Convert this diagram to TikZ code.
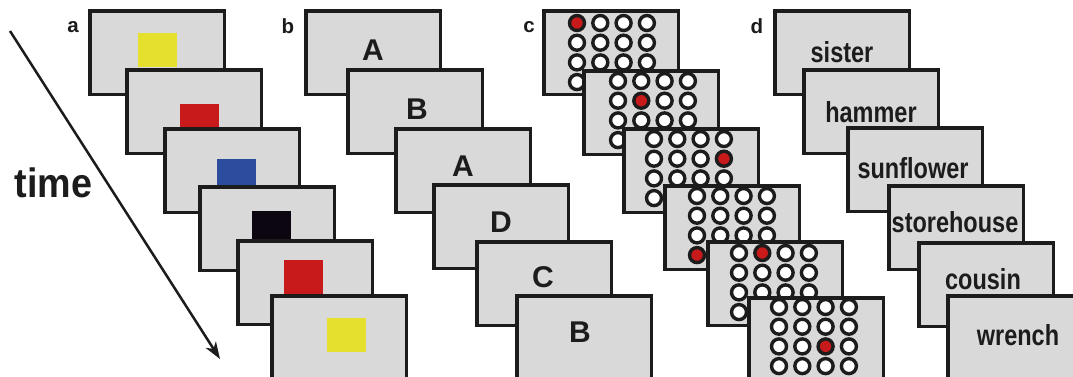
\documentclass[tikz,border=0pt]{standalone}
\usepackage{fontspec}
\setmainfont{Liberation Sans}
\usetikzlibrary{arrows.meta}
\definecolor{scr}{RGB}{217,217,217}
\definecolor{ylw}{RGB}{229,224,46}
\definecolor{rd}{RGB}{200,26,26}
\definecolor{blu}{RGB}{44,76,158}
\definecolor{blk}{RGB}{12,6,16}
\definecolor{ink}{RGB}{28,28,28}
\newcommand\dotgrid[4]{%
  \foreach \r in {1,...,4}{\foreach \c in {1,...,4}{%
    \ifnum\numexpr\r*10+\c\relax=#4 \def\fc{rd}\else\def\fc{white}\fi
    \node[dot, fill=\fc] (#1-\r-\c) at ({#2+(\c-1)*23.3},{#3+(\r-1)*19.7}) {};
  }}%
}
\begin{document}
\begin{tikzpicture}[x=1pt,y=-1pt,
  screen/.style={draw=ink, fill=scr, line width=3.5pt, outer sep=1.75pt,
    minimum width=134.5pt, minimum height=83.5pt, inner sep=0pt, anchor=north west},
  sq/.style={inner sep=0pt, outer sep=0pt, minimum width=38.5pt, minimum height=34pt, anchor=north west},
  dot/.style={circle, draw=ink, line width=3.4pt, minimum size=15pt, inner sep=0pt},
  lab/.style={anchor=base, text=ink, font=\fontsize{20.5}{20.5}\selectfont\bfseries},
  letter/.style={anchor=base, text=ink, font=\fontsize{30}{30}\selectfont\bfseries},
  word/.style={anchor=base, text=ink, font=\fontsize{29}{29}\selectfont\bfseries}]
\useasboundingbox (0,0) rectangle (1073,376);
\fill[white] (0,0) rectangle (1073,376);

% labels
\node[lab] (la) at (73,32) {a};
\node[lab] (lb) at (288,33) {b};
\node[lab] (lc) at (529,32) {c};
\node[lab] (ld) at (757,33) {d};

% time arrow
\coordinate (ts) at (10,31);
\coordinate (te) at (220,359);
\draw[ink, line width=2.5pt, -{Stealth[length=17pt,width=12pt,inset=5pt]}] (ts) -- (te);
\node[anchor=base west, text=ink, font=\fontsize{41}{41}\selectfont\bfseries] (time) at (11,197) {\scalebox{0.92}[1]{time}};

% panel a
\node[screen] (a1) at (88,9) {};
\node[sq, fill=ylw] (a1q) at (138,33) {};
\node[screen] (a2) at (125,68) {};
\node[sq, fill=rd] (a2q) at (180,104) {};
\node[screen] (a3) at (163,127) {};
\node[sq, fill=blu] (a3q) at (217,159) {};
\node[screen] (a4) at (198,185) {};
\node[sq, fill=blk] (a4q) at (252,211) {};
\node[screen] (a5) at (236,239) {};
\node[sq, fill=rd] (a5q) at (284,260) {};
\node[screen] (a6) at (270,294) {};
\node[sq, fill=ylw] (a6q) at (327,318) {};

% panel b
\node[screen] (b1) at (304,9) {};
\node[letter] (b1t) at (373,60) {A};
\node[screen] (b2) at (346,68) {};
\node[letter] (b2t) at (417,119) {B};
\node[screen] (b3) at (394,127) {};
\node[letter] (b3t) at (463,176) {A};
\node[screen] (b4) at (432,183) {};
\node[letter] (b4t) at (501,232) {D};
\node[screen] (b5) at (475,240) {};
\node[letter] (b5t) at (543,287) {C};
\node[screen] (b6) at (515,294) {};
\node[letter] (b6t) at (580,342) {B};

% panel c
\node[screen] (c1) at (542,9) {};
\dotgrid{c1}{577}{23}{11}
\node[screen] (c2) at (582,69) {};
\dotgrid{c2}{618}{81}{22}
\node[screen] (c3) at (622,127) {};
\dotgrid{c3}{654}{139}{24}
\node[screen] (c4) at (663,184) {};
\dotgrid{c4}{697}{196}{41}
\node[screen] (c5) at (706,240) {};
\dotgrid{c5}{739}{253}{12}
\node[screen] (c6) at (747,296) {};
\dotgrid{c6}{779}{307}{33}

% panel d
\node[screen] (d1) at (773,9) {};
\node[word] (d1t) at (842,62) {\scalebox{0.81}[1]{sister}};
\node[screen] (d2) at (802,68) {};
\node[word] (d2t) at (871,122) {\scalebox{0.81}[1]{hammer}};
\node[screen] (d3) at (846,126) {};
\node[word] (d3t) at (913,178) {\scalebox{0.81}[1]{sunflower}};
\node[screen] (d4) at (887,184) {};
\node[word] (d4t) at (955,232) {\scalebox{0.81}[1]{storehouse}};
\node[screen] (d5) at (917,241) {};
\node[word] (d5t) at (983,289) {\scalebox{0.81}[1]{cousin}};
\node[screen] (d6) at (946,294) {};
\node[word] (d6t) at (1018,345) {\scalebox{0.81}[1]{wrench}};
\end{tikzpicture}
\end{document}
